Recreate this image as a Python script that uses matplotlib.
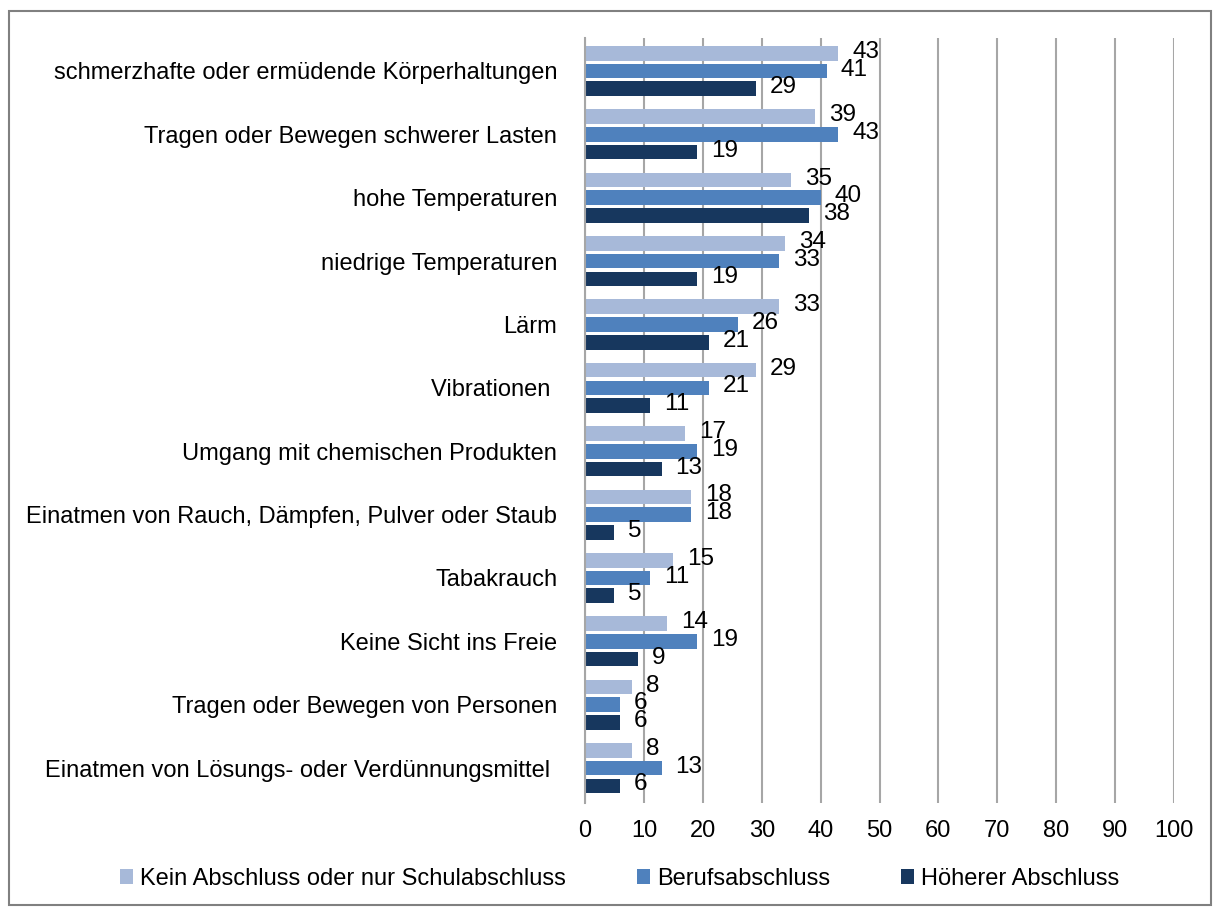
import matplotlib.pyplot as plt
import matplotlib.patches as mpatches
import numpy as np

plt.rcParams['font.family'] = ['Liberation Sans', 'DejaVu Sans']

categories = [
    "schmerzhafte oder ermüdende Körperhaltungen",
    "Tragen oder Bewegen schwerer Lasten",
    "hohe Temperaturen",
    "niedrige Temperaturen",
    "Lärm",
    "Vibrationen ",
    "Umgang mit chemischen Produkten",
    "Einatmen von Rauch, Dämpfen, Pulver oder Staub",
    "Tabakrauch",
    "Keine Sicht ins Freie",
    "Tragen oder Bewegen von Personen",
    "Einatmen von Lösungs- oder Verdünnungsmittel ",
]
kein = [43, 39, 35, 34, 33, 29, 17, 18, 15, 14, 8, 8]
beruf = [41, 43, 40, 33, 26, 21, 19, 18, 11, 19, 6, 13]
hoeher = [29, 19, 38, 19, 21, 11, 13, 5, 5, 9, 6, 6]
series_names = ["Kein Abschluss oder nur Schulabschluss", "Berufsabschluss", "Höherer Abschluss"]
colors = ["#A7B9D9", "#4F81BD", "#17375E"]

fig = plt.figure(figsize=(12.17, 9.10), dpi=100)
ax = fig.add_axes([0.4807, 0.1176, 0.484, 0.8406])

y = np.arange(len(categories))
step = 0.28
h = 0.23
for i, (vals, name, c) in enumerate(zip([kein, beruf, hoeher], series_names, colors)):
    pos = y + (i - 1) * step
    ax.barh(pos, vals, height=h, color=c, label=name, zorder=3)
    for p, v in zip(pos, vals):
        ax.annotate(str(v), (v, p), xytext=(10, 1), textcoords='offset points',
                    ha='left', va='center', fontsize=17.5, color='black', zorder=4)

ax.set_xlim(0, 100)
ax.set_ylim(len(categories) - 0.45, -0.52)
ax.set_xticks(np.arange(0, 101, 10))
ax.set_yticks(y)
ax.set_yticklabels(categories, fontsize=17)
ax.tick_params(axis='x', labelsize=17, length=0, pad=12)
ax.tick_params(axis='y', length=0, pad=20)
ax.grid(axis='x', color='#A6A6A6', linewidth=1.5, zorder=0)
for s in ['top', 'right', 'bottom']:
    ax.spines[s].set_visible(False)
ax.spines['left'].set_color('#A6A6A6')
ax.spines['left'].set_linewidth(1.5)
ax.spines['left'].set_zorder(5)

ax.legend(loc='center', bbox_to_anchor=(0.509, 0.034), bbox_transform=fig.transFigure,
          ncol=3, frameon=False, fontsize=17, handlelength=0.55, handleheight=0.6,
          handletextpad=0.3, columnspacing=3.0)

fig.add_artist(mpatches.Rectangle((0.007, 0.005), 0.988, 0.983, transform=fig.transFigure,
                                  fill=False, edgecolor='#808080', linewidth=1.5))

fig.savefig('out.png', dpi=100)
